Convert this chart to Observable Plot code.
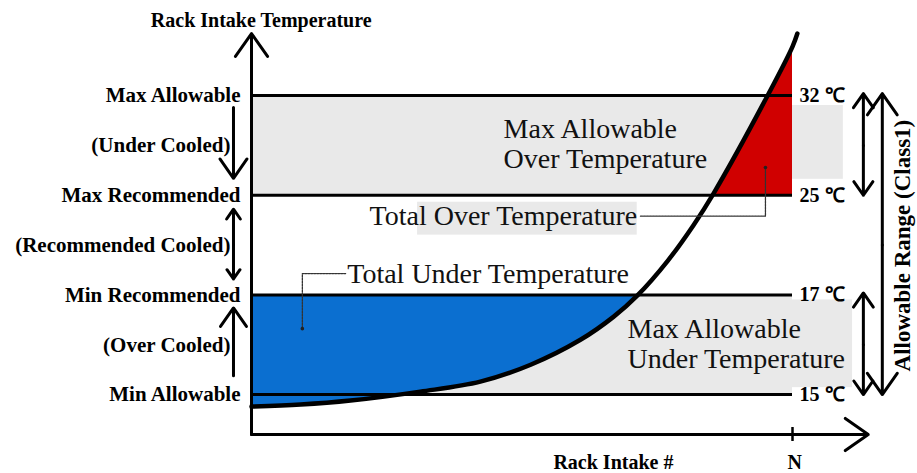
<!DOCTYPE html>
<html>
<head>
<meta charset="utf-8">
<script src="https://cdn.jsdelivr.net/npm/d3@7"></script>
<script src="https://cdn.jsdelivr.net/npm/@observablehq/plot@0.6"></script>
<style>
  html, body { margin: 0; padding: 0; background: #fff; }
</style>
</head>
<body>
<div id="chart"></div>
<script>
// ---- data ----
const levelIdx   = [1, 2, 3, 4];
const levelNames = ["Min Allowable", "Min Recommended", "Max Recommended", "Max Allowable"];
const levelTemps = ["15 \u2103", "17 \u2103", "25 \u2103", "32 \u2103"];
const bandNames  = ["(Over Cooled)", "(Recommended Cooled)", "(Under Cooled)"];
const bandDir    = ["up", "both", "down"];

// rack intake temperature curve (x: fraction of racks up to N, y: level scale)
const curveX = [0, 0.091, 0.183, 0.312, 0.423, 0.516, 0.608, 0.669, 0.713, 0.769, 0.817, 0.854, 0.956, 1.0, 1.009];
const curveY = [0.880, 0.900, 0.940, 1.030, 1.130, 1.300, 1.550, 1.780, 1.993, 2.340, 2.700, 3.017, 4.020, 4.491, 4.622];

const titleY = "Rack Intake Temperature";
const titleX = "Rack Intake #";
const rangeLabel = "Allowable Range (Class1)";

// ---- derived ----
const curve = curveX.map((x, i) => ({x, y: curveY[i]}));
const minRec = levelIdx[1], maxRec = levelIdx[2];
const blue = curve.filter(d => d.x <= 0.7135);
const red = curve.filter(d => d.y >= 3.0 && d.x <= 1.0);
const levels = levelIdx.map((l, i) => ({l, name: levelNames[i], temp: levelTemps[i]}));
const bands = bandNames.map((name, i) => ({l: levelIdx[i] + 0.5, name, dir: bandDir[i]}));

// left arrows
const leftArrows = [];
bands.forEach(b => {
  const lo = b.l - 0.5, hi = b.l + 0.5;
  if (b.dir === "up") leftArrows.push({x: -0.0333, y1: lo + 0.19, y2: hi - 0.13});
  if (b.dir === "down") leftArrows.push({x: -0.0333, y1: hi - 0.12, y2: lo + 0.17});
  if (b.dir === "both") {
    leftArrows.push({x: -0.0333, y1: b.l, y2: hi - 0.14});
    leftArrows.push({x: -0.0333, y1: b.l, y2: lo + 0.16});
  }
});
// right arrows
const rightArrows = [
  {x: 1.131, y1: 3.5, y2: 4.02}, {x: 1.131, y1: 3.5, y2: 3.0},
  {x: 1.131, y1: 1.5, y2: 2.02}, {x: 1.131, y1: 1.5, y2: 1.0},
  {x: 1.166, y1: 2.5, y2: 4.02}, {x: 1.166, y1: 2.5, y2: 1.0}
];

const GRAY = "#e9e9e9";
const serif = "'Liberation Serif', 'Times New Roman', serif";

const chart = Plot.plot({
  width: 917,
  height: 473,
  marginLeft: 251,
  marginRight: 16.8,
  marginTop: 15.3,
  marginBottom: 39,
  x: {domain: [0, 1.2], axis: null},
  y: {domain: [0.6, 4.8], axis: null},
  style: {fontFamily: serif, background: "#fff", overflow: "visible"},
  marks: [
    // gray bands and text backgrounds
    Plot.rect([
      {x1: 0, x2: 1, y1: 3, y2: 4},
      {x1: 0, x2: 1, y1: 1, y2: 2},
      {x1: 1, x2: 1.094, y1: 3.16, y2: 3.9},
      {x1: 1, x2: 1.111, y1: 1.07, y2: 1.95},
      {x1: 0.307, x2: 0.713, y1: 2.6, y2: 2.93}
    ], {x1: "x1", x2: "x2", y1: "y1", y2: "y2", fill: GRAY}),
    // total under temperature (blue)
    Plot.areaY(blue, {x: "x", y1: "y", y2: minRec, fill: "#0b6fd0", curve: "catmull-rom"}),
    // total over temperature (red)
    Plot.areaY(red, {x: "x", y1: maxRec, y2: "y", fill: "#d00000", curve: "catmull-rom"}),
    // level lines
    Plot.ruleY(levels, {y: "l", x1: 0, x2: 1, stroke: "#000", strokeWidth: 3}),
    // curve
    Plot.line(curve, {x: "x", y: "y", stroke: "#000", strokeWidth: 4.5, curve: "catmull-rom"}),
    // axes
    Plot.arrow([{x1: 0, y1: 0.6, x2: 0, y2: 4.622}], {x1: "x1", y1: "y1", x2: "x2", y2: "y2", stroke: "#000", strokeWidth: 3, headLength: 14, headAngle: 70}),
    Plot.arrow([{x1: 0, y1: 0.6, x2: 1.14, y2: 0.6}], {x1: "x1", y1: "y1", x2: "x2", y2: "y2", stroke: "#000", strokeWidth: 3, headLength: 14, headAngle: 70}),
    Plot.ruleX([1], {x: d => d, y1: 0.53, y2: 0.67, stroke: "#000", strokeWidth: 2.5}),
    // leaders
    Plot.line([{x: 0.174, y: 2.214}, {x: 0.094, y: 2.214}, {x: 0.094, y: 1.662}], {x: "x", y: "y", stroke: "#333", strokeWidth: 1.3, strokeDasharray: "2,1"}),
    Plot.line([{x: 0.719, y: 2.79}, {x: 0.950, y: 2.79}, {x: 0.950, y: 3.278}], {x: "x", y: "y", stroke: "#333", strokeWidth: 1.3, strokeDasharray: "2,1"}),
    Plot.dot([{x: 0.094, y: 1.662}, {x: 0.950, y: 3.278}], {x: "x", y: "y", r: 1.8, fill: "#222"}),
    // left arrows
    Plot.arrow(leftArrows, {x1: "x", x2: "x", y1: "y1", y2: "y2", stroke: "#000", strokeWidth: 3, headLength: 13, headAngle: 70}),
    // right arrows
    Plot.arrow(rightArrows, {x1: "x", x2: "x", y1: "y1", y2: "y2", stroke: "#000", strokeWidth: 3, headLength: 13, headAngle: 70}),
    // left labels
    Plot.text(levels, {x: -0.0203, y: "l", text: "name", textAnchor: "end", fontSize: 21, fontWeight: "bold", fill: "#000"}),
    Plot.text(bands, {x: -0.039, y: "l", text: "name", textAnchor: "end", fontSize: 21, fontWeight: "bold", fill: "#000"}),
    // right labels
    Plot.text(levels, {x: 1.013, y: "l", text: "temp", textAnchor: "start", fontSize: 20, fontWeight: "bold", fill: "#000"}),
    Plot.text([rangeLabel], {x: 1.203, y: 2.495, text: d => d, rotate: -90, fontSize: 23, fontWeight: "bold", fill: "#000"}),
    // annotations
    Plot.text(["Max Allowable\nOver Temperature"], {x: 0.466, y: 3.518, text: d => d, textAnchor: "start", fontSize: 28, lineHeight: 1.07, fill: "#111"}),
    Plot.text(["Max Allowable\nUnder Temperature"], {x: 0.695, y: 1.512, text: d => d, textAnchor: "start", fontSize: 28, lineHeight: 1.07, fill: "#111"}),
    Plot.text(["Total Over Temperature"], {x: 0.713, y: 2.796, text: d => d, textAnchor: "end", fontSize: 28, fill: "#111"}),
    Plot.text(["Total Under Temperature"], {x: 0.177, y: 2.209, text: d => d, textAnchor: "start", fontSize: 28, fill: "#111"}),
    // axis titles
    Plot.text([titleY], {x: 0.018, y: 4.752, text: d => d, fontSize: 20, fontWeight: "bold", fill: "#000"}),
    Plot.text([titleX], {x: 0.669, y: 0.318, text: d => d, fontSize: 20, fontWeight: "bold", fill: "#000"}),
    Plot.text(["N"], {x: 1.004, y: 0.318, text: d => d, fontSize: 20, fontWeight: "bold", fill: "#000"})
  ]
});
document.getElementById("chart").appendChild(chart);
</script>
</body>
</html>
